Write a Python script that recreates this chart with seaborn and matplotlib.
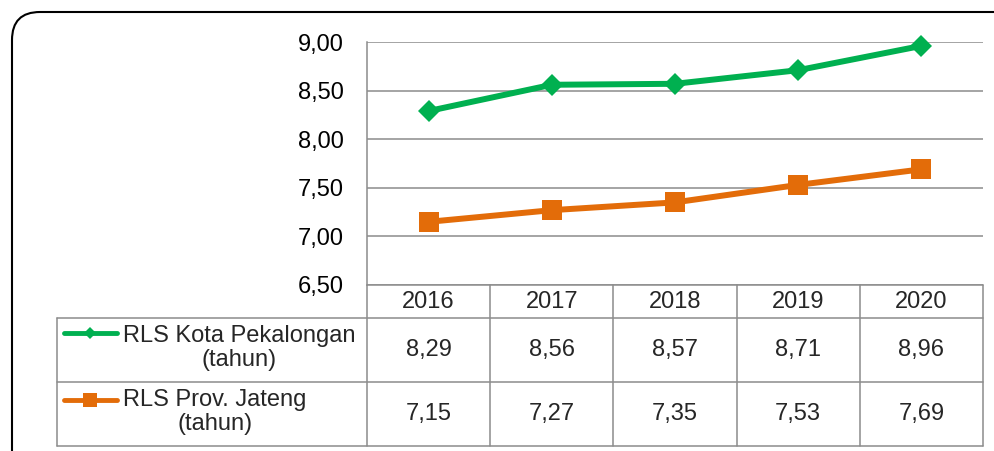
import matplotlib
matplotlib.use("Agg")
import matplotlib.pyplot as plt
import matplotlib.transforms as mtransforms
from matplotlib.patches import FancyBboxPatch
import pandas as pd
import seaborn as sns

# data
years = [2016, 2017, 2018, 2019, 2020]
kota_values = [8.29, 8.56, 8.57, 8.71, 8.96]
jateng_values = [7.15, 7.27, 7.35, 7.53, 7.69]
series_labels = ["RLS Kota Pekalongan\n(tahun)", "RLS Prov. Jateng\n(tahun)"]
y_ticks = [6.5, 7.0, 7.5, 8.0, 8.5, 9.0]

GREEN = "#00B050"
ORANGE = "#E36C09"
GRID = "#8C8C8C"

# layout in pixels
W, H = 995, 451
PLOT_L, PLOT_R = 367, 983
PLOT_T, PLOT_B = 42, 285
TAB_L = 57
HEAD_B = 318
ROW1_B = 382
ROW2_B = 446
FS = 17


def fmt(v):
    return f"{v:.2f}".replace(".", ",")


sns.set_theme(style="white")
plt.rcParams["font.family"] = ["Liberation Sans", "DejaVu Sans"]

fig = plt.figure(figsize=(W / 100, H / 100), dpi=100)
ax = fig.add_axes([PLOT_L / W, 1 - PLOT_B / H, (PLOT_R - PLOT_L) / W, (PLOT_B - PLOT_T) / H])

df_kota = pd.DataFrame({"year": years, "value": kota_values})
df_jateng = pd.DataFrame({"year": years, "value": jateng_values})

sns.lineplot(data=df_kota, x="year", y="value", ax=ax, color=GREEN, lw=4.3,
             marker="D", markersize=11.5, markeredgewidth=0, zorder=5, clip_on=False)
sns.lineplot(data=df_jateng, x="year", y="value", ax=ax, color=ORANGE, lw=4.3,
             marker="s", markersize=14, markeredgewidth=0, zorder=5, clip_on=False)

ax.set_xlim(years[0] - 0.5, years[-1] + 0.5)
ax.set_ylim(y_ticks[0], y_ticks[-1])
ax.set_yticks(y_ticks)
ax.set_yticklabels([fmt(v) for v in y_ticks], fontsize=FS, color="black")
ax.set_xticks([])
ax.set_xlabel("")
ax.set_ylabel("")
ax.tick_params(axis="y", length=0, pad=17)
ax.yaxis.grid(True, color=GRID, lw=1.1)
ax.xaxis.grid(False)
for side in ["top", "right", "bottom"]:
    ax.spines[side].set_visible(False)
ax.spines["left"].set_color(GRID)
ax.spines["left"].set_linewidth(1.1)
ax.patch.set_alpha(0)

# data table below the plot
tab = fig.add_axes([0, 0, 1, 1])
tab.set_xlim(0, W)
tab.set_ylim(H, 0)
tab.axis("off")
tab.patch.set_alpha(0)

colw = (PLOT_R - PLOT_L) / len(years)
lw_tab = 1.1
tab.plot([PLOT_L, PLOT_R], [PLOT_B, PLOT_B], color=GRID, lw=lw_tab)
for yy in [HEAD_B, ROW1_B, ROW2_B]:
    tab.plot([TAB_L, PLOT_R], [yy, yy], color=GRID, lw=lw_tab)
tab.plot([TAB_L, TAB_L], [HEAD_B, ROW2_B], color=GRID, lw=lw_tab)
for i in range(len(years) + 1):
    xx = PLOT_L + i * colw
    tab.plot([xx, xx], [PLOT_B, ROW2_B], color=GRID, lw=lw_tab)

for i, yr in enumerate(years):
    cx = PLOT_L + (i + 0.5) * colw
    tab.text(cx, (PLOT_B + HEAD_B) / 2 + 1, str(yr), ha="center", va="center", fontsize=FS)
    tab.text(cx, (HEAD_B + ROW1_B) / 2, fmt(kota_values[i]), ha="center", va="center", fontsize=FS)
    tab.text(cx, (ROW1_B + ROW2_B) / 2, fmt(jateng_values[i]), ha="center", va="center", fontsize=FS)

# legend keys inside table
rows = [(HEAD_B, ROW1_B, GREEN, "D", 6), (ROW1_B, ROW2_B, ORANGE, "s", 10)]
for (top, bot, col, mk, ms), label in zip(rows, series_labels):
    ky = top + 15 if mk == "D" else top + 18
    tab.plot([64, 117], [ky, ky], color=col, lw=3.5, solid_capstyle="round")
    tab.plot([90], [ky], marker=mk, ms=ms, color=col, markeredgewidth=0)
    tab.text(123, (top + bot) / 2 - 2, label, ha="left", va="center",
             multialignment="center", fontsize=FS, linespacing=1.1)

# rounded outer frame
frame = FancyBboxPatch((12, -40), 1020, H - 12 + 40,
                       boxstyle="round,pad=0,rounding_size=28",
                       transform=mtransforms.IdentityTransform(),
                       fill=False, ec="black", lw=1.5)
fig.add_artist(frame)

fig.savefig("out.png", dpi=100)
